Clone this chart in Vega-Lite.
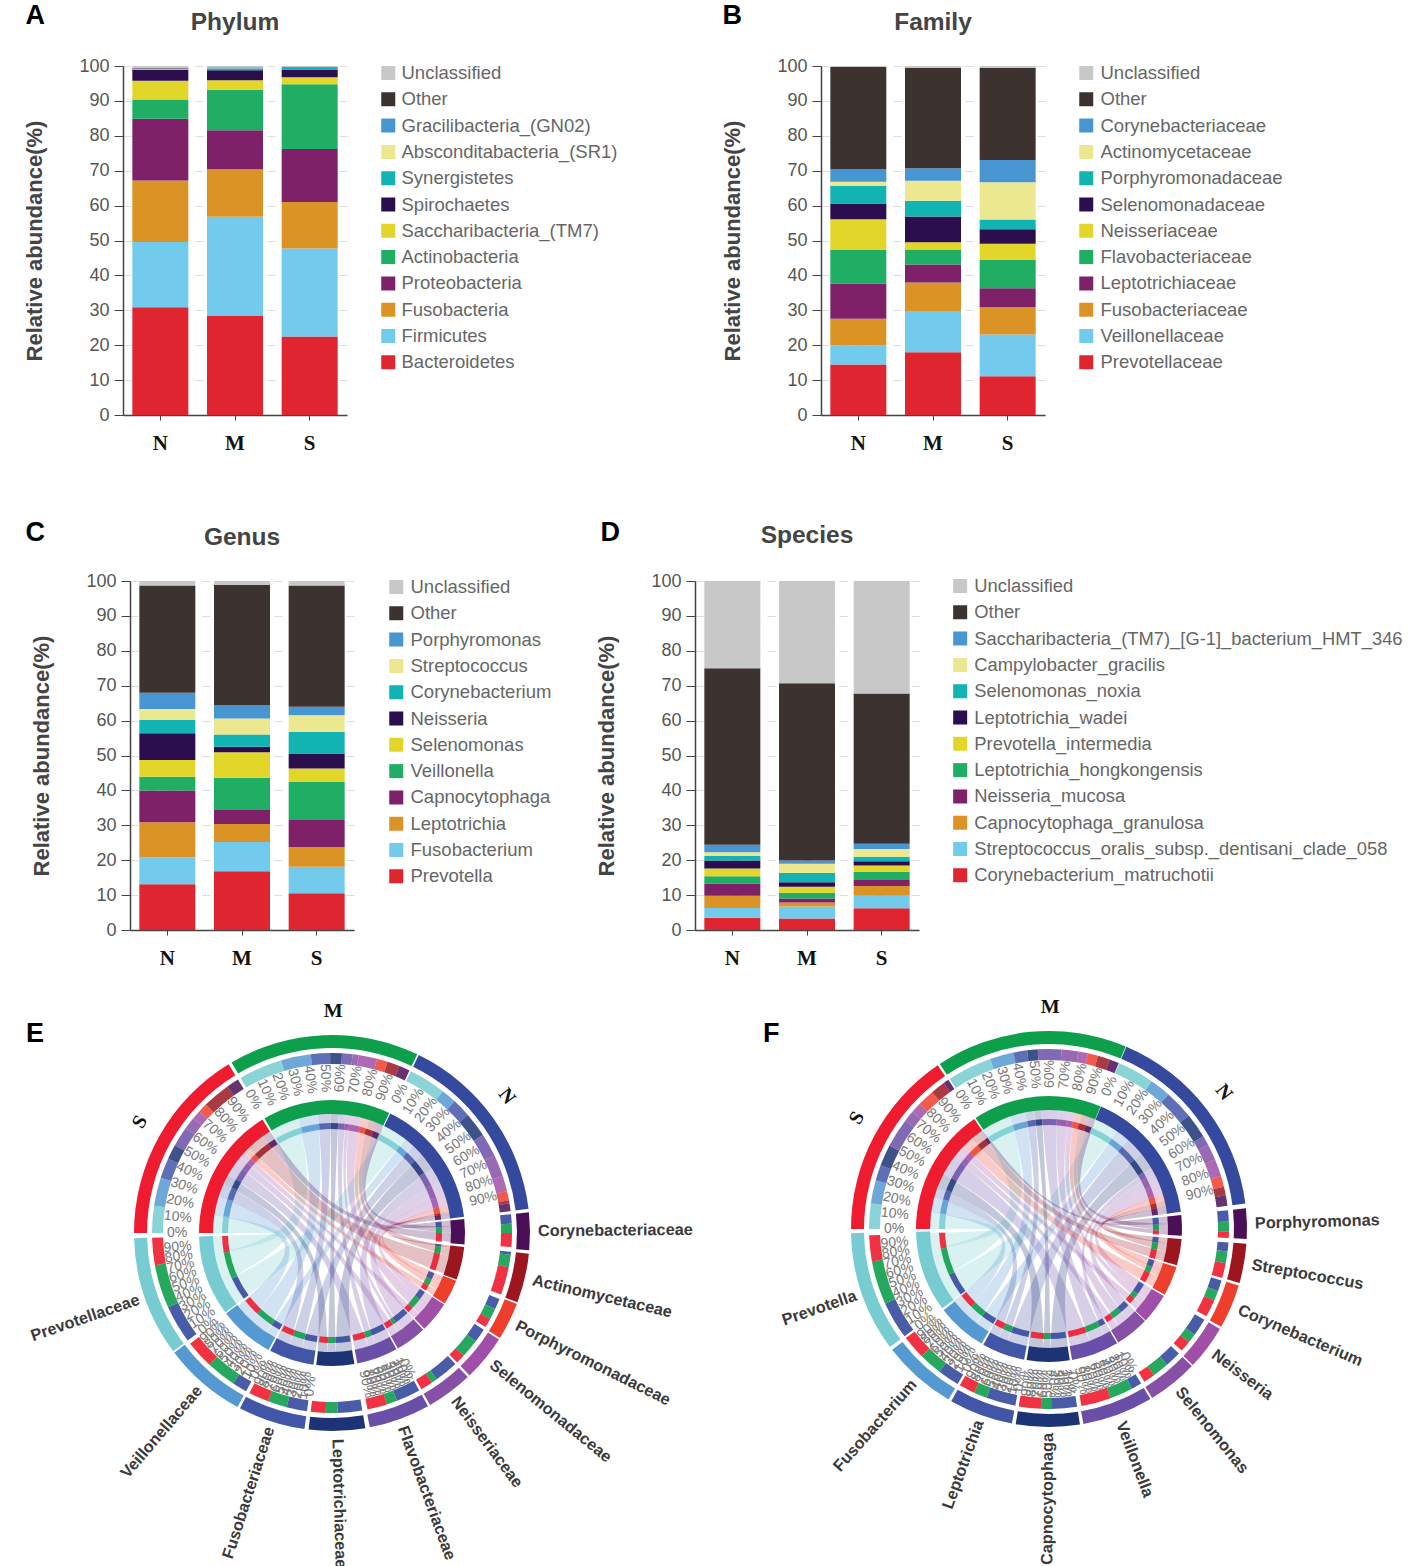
{"$schema":"https://vega.github.io/schema/vega-lite/v6.json","padding":{"top":1,"left":0,"right":0,"bottom":0},"background":"white","config":{"view":{"stroke":null},"font":"Liberation Sans"},
"datasets":{
"A":[{"g":"N","t":"Bacteroidetes","k":1,"v":30.9},{"g":"N","t":"Firmicutes","k":2,"v":18.7},{"g":"N","t":"Fusobacteria","k":3,"v":17.6},{"g":"N","t":"Proteobacteria","k":4,"v":17.7},{"g":"N","t":"Actinobacteria","k":5,"v":5.5},{"g":"N","t":"Saccharibacteria_(TM7)","k":6,"v":5.4},{"g":"N","t":"Spirochaetes","k":7,"v":3.1},{"g":"N","t":"Synergistetes","k":8,"v":0.2},{"g":"N","t":"Absconditabacteria_(SR1)","k":9,"v":0.1},{"g":"N","t":"Gracilibacteria_(GN02)","k":10,"v":0.1},{"g":"N","t":"Other","k":11,"v":0.2},{"g":"N","t":"Unclassified","k":12,"v":0.5},
{"g":"M","t":"Bacteroidetes","k":1,"v":28.5},{"g":"M","t":"Firmicutes","k":2,"v":28.3},{"g":"M","t":"Fusobacteria","k":3,"v":13.6},{"g":"M","t":"Proteobacteria","k":4,"v":11.2},{"g":"M","t":"Actinobacteria","k":5,"v":11.6},{"g":"M","t":"Saccharibacteria_(TM7)","k":6,"v":2.7},{"g":"M","t":"Spirochaetes","k":7,"v":2.9},{"g":"M","t":"Synergistetes","k":8,"v":0.4},{"g":"M","t":"Absconditabacteria_(SR1)","k":9,"v":0.1},{"g":"M","t":"Gracilibacteria_(GN02)","k":10,"v":0.1},{"g":"M","t":"Other","k":11,"v":0.2},{"g":"M","t":"Unclassified","k":12,"v":0.4},
{"g":"S","t":"Bacteroidetes","k":1,"v":22.5},{"g":"S","t":"Firmicutes","k":2,"v":25.2},{"g":"S","t":"Fusobacteria","k":3,"v":13.3},{"g":"S","t":"Proteobacteria","k":4,"v":15.2},{"g":"S","t":"Actinobacteria","k":5,"v":18.6},{"g":"S","t":"Saccharibacteria_(TM7)","k":6,"v":2},{"g":"S","t":"Spirochaetes","k":7,"v":2.2},{"g":"S","t":"Synergistetes","k":8,"v":0.4},{"g":"S","t":"Absconditabacteria_(SR1)","k":9,"v":0.1},{"g":"S","t":"Gracilibacteria_(GN02)","k":10,"v":0.1},{"g":"S","t":"Other","k":11,"v":0.1},{"g":"S","t":"Unclassified","k":12,"v":0.3}],
"B":[{"g":"N","t":"Prevotellaceae","k":1,"v":14.5},{"g":"N","t":"Veillonellaceae","k":2,"v":5.5},{"g":"N","t":"Fusobacteriaceae","k":3,"v":7.6},{"g":"N","t":"Leptotrichiaceae","k":4,"v":10.1},{"g":"N","t":"Flavobacteriaceae","k":5,"v":9.6},{"g":"N","t":"Neisseriaceae","k":6,"v":8.8},{"g":"N","t":"Selenomonadaceae","k":7,"v":4.5},{"g":"N","t":"Porphyromonadaceae","k":8,"v":5.1},{"g":"N","t":"Actinomycetaceae","k":9,"v":1.1},{"g":"N","t":"Corynebacteriaceae","k":10,"v":3.7},{"g":"N","t":"Other","k":11,"v":29.2},{"g":"N","t":"Unclassified","k":12,"v":0.3},
{"g":"M","t":"Prevotellaceae","k":1,"v":18},{"g":"M","t":"Veillonellaceae","k":2,"v":11.8},{"g":"M","t":"Fusobacteriaceae","k":3,"v":8.2},{"g":"M","t":"Leptotrichiaceae","k":4,"v":5.1},{"g":"M","t":"Flavobacteriaceae","k":5,"v":4.3},{"g":"M","t":"Neisseriaceae","k":6,"v":2.1},{"g":"M","t":"Selenomonadaceae","k":7,"v":7.4},{"g":"M","t":"Porphyromonadaceae","k":8,"v":4.5},{"g":"M","t":"Actinomycetaceae","k":9,"v":5.7},{"g":"M","t":"Corynebacteriaceae","k":10,"v":3.6},{"g":"M","t":"Other","k":11,"v":28.7},{"g":"M","t":"Unclassified","k":12,"v":0.6},
{"g":"S","t":"Prevotellaceae","k":1,"v":11.1},{"g":"S","t":"Veillonellaceae","k":2,"v":12},{"g":"S","t":"Fusobacteriaceae","k":3,"v":7.8},{"g":"S","t":"Leptotrichiaceae","k":4,"v":5.4},{"g":"S","t":"Flavobacteriaceae","k":5,"v":8.1},{"g":"S","t":"Neisseriaceae","k":6,"v":4.7},{"g":"S","t":"Selenomonadaceae","k":7,"v":4.1},{"g":"S","t":"Porphyromonadaceae","k":8,"v":2.8},{"g":"S","t":"Actinomycetaceae","k":9,"v":10.7},{"g":"S","t":"Corynebacteriaceae","k":10,"v":6.4},{"g":"S","t":"Other","k":11,"v":26.3},{"g":"S","t":"Unclassified","k":12,"v":0.6}],
"C":[{"g":"N","t":"Prevotella","k":1,"v":13.1},{"g":"N","t":"Fusobacterium","k":2,"v":7.7},{"g":"N","t":"Leptotrichia","k":3,"v":10.1},{"g":"N","t":"Capnocytophaga","k":4,"v":9.1},{"g":"N","t":"Veillonella","k":5,"v":3.9},{"g":"N","t":"Selenomonas","k":6,"v":4.8},{"g":"N","t":"Neisseria","k":7,"v":7.7},{"g":"N","t":"Corynebacterium","k":8,"v":3.8},{"g":"N","t":"Streptococcus","k":9,"v":3.1},{"g":"N","t":"Porphyromonas","k":10,"v":4.7},{"g":"N","t":"Other","k":11,"v":30.7},{"g":"N","t":"Unclassified","k":12,"v":1.3},
{"g":"M","t":"Prevotella","k":1,"v":16.8},{"g":"M","t":"Fusobacterium","k":2,"v":8.4},{"g":"M","t":"Leptotrichia","k":3,"v":5.2},{"g":"M","t":"Capnocytophaga","k":4,"v":4},{"g":"M","t":"Veillonella","k":5,"v":9.2},{"g":"M","t":"Selenomonas","k":6,"v":7.3},{"g":"M","t":"Neisseria","k":7,"v":1.6},{"g":"M","t":"Corynebacterium","k":8,"v":3.5},{"g":"M","t":"Streptococcus","k":9,"v":4.6},{"g":"M","t":"Porphyromonas","k":10,"v":3.9},{"g":"M","t":"Other","k":11,"v":34.4},{"g":"M","t":"Unclassified","k":12,"v":1.1},
{"g":"S","t":"Prevotella","k":1,"v":10.5},{"g":"S","t":"Fusobacterium","k":2,"v":7.6},{"g":"S","t":"Leptotrichia","k":3,"v":5.7},{"g":"S","t":"Capnocytophaga","k":4,"v":7.7},{"g":"S","t":"Veillonella","k":5,"v":10.9},{"g":"S","t":"Selenomonas","k":6,"v":3.9},{"g":"S","t":"Neisseria","k":7,"v":4.3},{"g":"S","t":"Corynebacterium","k":8,"v":6.2},{"g":"S","t":"Streptococcus","k":9,"v":4.7},{"g":"S","t":"Porphyromonas","k":10,"v":2.5},{"g":"S","t":"Other","k":11,"v":34.7},{"g":"S","t":"Unclassified","k":12,"v":1.3}],
"D":[{"g":"N","t":"Corynebacterium_matruchotii","k":1,"v":3.5},{"g":"N","t":"Streptococcus_oralis_subsp._dentisani_clade_058","k":2,"v":2.8},{"g":"N","t":"Capnocytophaga_granulosa","k":3,"v":3.5},{"g":"N","t":"Neisseria_mucosa","k":4,"v":3.5},{"g":"N","t":"Leptotrichia_hongkongensis","k":5,"v":2.1},{"g":"N","t":"Prevotella_intermedia","k":6,"v":2.2},{"g":"N","t":"Leptotrichia_wadei","k":7,"v":2.3},{"g":"N","t":"Selenomonas_noxia","k":8,"v":1.3},{"g":"N","t":"Campylobacter_gracilis","k":9,"v":1.1},{"g":"N","t":"Saccharibacteria_(TM7)_[G-1]_bacterium_HMT_346","k":10,"v":2.1},{"g":"N","t":"Other","k":11,"v":50.6},{"g":"N","t":"Unclassified","k":12,"v":25},
{"g":"M","t":"Corynebacterium_matruchotii","k":1,"v":3.3},{"g":"M","t":"Streptococcus_oralis_subsp._dentisani_clade_058","k":2,"v":3.4},{"g":"M","t":"Capnocytophaga_granulosa","k":3,"v":1.2},{"g":"M","t":"Neisseria_mucosa","k":4,"v":1.1},{"g":"M","t":"Leptotrichia_hongkongensis","k":5,"v":1.7},{"g":"M","t":"Prevotella_intermedia","k":6,"v":1.7},{"g":"M","t":"Leptotrichia_wadei","k":7,"v":1.3},{"g":"M","t":"Selenomonas_noxia","k":8,"v":2.6},{"g":"M","t":"Campylobacter_gracilis","k":9,"v":2.7},{"g":"M","t":"Saccharibacteria_(TM7)_[G-1]_bacterium_HMT_346","k":10,"v":0.9},{"g":"M","t":"Other","k":11,"v":50.8},{"g":"M","t":"Unclassified","k":12,"v":29.3},
{"g":"S","t":"Corynebacterium_matruchotii","k":1,"v":6.2},{"g":"S","t":"Streptococcus_oralis_subsp._dentisani_clade_058","k":2,"v":3.6},{"g":"S","t":"Capnocytophaga_granulosa","k":3,"v":2.8},{"g":"S","t":"Neisseria_mucosa","k":4,"v":1.7},{"g":"S","t":"Leptotrichia_hongkongensis","k":5,"v":2.4},{"g":"S","t":"Prevotella_intermedia","k":6,"v":1.8},{"g":"S","t":"Leptotrichia_wadei","k":7,"v":1.2},{"g":"S","t":"Selenomonas_noxia","k":8,"v":1.3},{"g":"S","t":"Campylobacter_gracilis","k":9,"v":2.2},{"g":"S","t":"Saccharibacteria_(TM7)_[G-1]_bacterium_HMT_346","k":10,"v":1.5},{"g":"S","t":"Other","k":11,"v":43.1},{"g":"S","t":"Unclassified","k":12,"v":32.2}],
"chordE":[
{"src":"N","tgt":"Prevotellaceae","a0":26,"a1":38,"b0":233.3,"b1":245.6},{"src":"N","tgt":"Veillonellaceae","a0":38,"a1":43,"b0":208.5,"b1":213.3},{"src":"N","tgt":"Fusobacteriaceae","a0":43,"a1":49,"b0":188,"b1":194.6},{"src":"N","tgt":"Leptotrichiaceae","a0":49,"a1":57,"b0":170.3,"b1":178.2},{"src":"N","tgt":"Flavobacteriaceae","a0":57,"a1":64.5,"b0":151,"b1":158.8},{"src":"N","tgt":"Neisseriaceae","a0":64.5,"a1":71.5,"b0":136.7,"b1":144.4},{"src":"N","tgt":"Selenomonadaceae","a0":71.5,"a1":76.5,"b0":122.5,"b1":127},{"src":"N","tgt":"Porphyromonadaceae","a0":76.5,"a1":79.5,"b0":111.5,"b1":115},{"src":"N","tgt":"Actinomycetaceae","a0":79.5,"a1":80.5,"b0":96,"b1":97},{"src":"N","tgt":"Corynebacteriaceae","a0":80.5,"a1":83,"b0":84,"b1":87},
{"src":"M","tgt":"Prevotellaceae","a0":329.5,"a1":343.6,"b0":245.6,"b1":259.7},{"src":"M","tgt":"Veillonellaceae","a0":343.6,"a1":353.2,"b0":213.3,"b1":222.9},{"src":"M","tgt":"Fusobacteriaceae","a0":353.2,"a1":359.4,"b0":194.6,"b1":200.8},{"src":"M","tgt":"Leptotrichiaceae","a0":359.4,"a1":363.2,"b0":178.2,"b1":182},{"src":"M","tgt":"Flavobacteriaceae","a0":363.2,"a1":366.6,"b0":158.8,"b1":162.2},{"src":"M","tgt":"Neisseriaceae","a0":366.6,"a1":368.5,"b0":144.4,"b1":146.3},{"src":"M","tgt":"Selenomonadaceae","a0":368.5,"a1":374.5,"b0":127,"b1":133},{"src":"M","tgt":"Porphyromonadaceae","a0":374.5,"a1":378,"b0":115,"b1":118.5},{"src":"M","tgt":"Actinomycetaceae","a0":378,"a1":382,"b0":97,"b1":101},{"src":"M","tgt":"Corynebacteriaceae","a0":382,"a1":385.5,"b0":87,"b1":90},
{"src":"S","tgt":"Prevotellaceae","a0":270,"a1":278.8,"b0":259.7,"b1":268.5},{"src":"S","tgt":"Veillonellaceae","a0":278.8,"a1":287.9,"b0":222.9,"b1":232},{"src":"S","tgt":"Fusobacteriaceae","a0":287.9,"a1":294.4,"b0":200.8,"b1":207.3},{"src":"S","tgt":"Leptotrichiaceae","a0":294.4,"a1":299.2,"b0":182,"b1":186.8},{"src":"S","tgt":"Flavobacteriaceae","a0":299.2,"a1":305.6,"b0":162.2,"b1":168.6},{"src":"S","tgt":"Neisseriaceae","a0":305.6,"a1":309.5,"b0":146.3,"b1":150.2},{"src":"S","tgt":"Selenomonadaceae","a0":309.5,"a1":312.5,"b0":133,"b1":136},{"src":"S","tgt":"Porphyromonadaceae","a0":312.5,"a1":315.5,"b0":118.5,"b1":121.5},{"src":"S","tgt":"Actinomycetaceae","a0":315.5,"a1":324.5,"b0":101,"b1":110},{"src":"S","tgt":"Corynebacteriaceae","a0":324.5,"a1":328.5,"b0":90,"b1":94.5}],
"chordF":[
{"src":"N","tgt":"Prevotella","a0":23,"a1":34.8,"b0":233.4,"b1":245.5},{"src":"N","tgt":"Fusobacterium","a0":34.8,"a1":41.6,"b0":210.5,"b1":217.5},{"src":"N","tgt":"Leptotrichia","a0":41.6,"a1":50.9,"b0":190.8,"b1":200.3},{"src":"N","tgt":"Capnocytophaga","a0":50.9,"a1":59,"b0":171,"b1":179.3},{"src":"N","tgt":"Veillonella","a0":59,"a1":62.2,"b0":149.2,"b1":152.5},{"src":"N","tgt":"Selenomonas","a0":62.2,"a1":67.3,"b0":133.8,"b1":139},{"src":"N","tgt":"Neisseria","a0":67.3,"a1":72.9,"b0":120.3,"b1":126},{"src":"N","tgt":"Corynebacterium","a0":72.9,"a1":76.4,"b0":106.6,"b1":110.2},{"src":"N","tgt":"Streptococcus","a0":76.4,"a1":79.2,"b0":94.3,"b1":97.2},{"src":"N","tgt":"Porphyromonas","a0":79.2,"a1":82.6,"b0":84,"b1":87.6},
{"src":"M","tgt":"Prevotella","a0":326.5,"a1":340.9,"b0":245.5,"b1":259.6},{"src":"M","tgt":"Fusobacterium","a0":340.9,"a1":348.6,"b0":217.5,"b1":225},{"src":"M","tgt":"Leptotrichia","a0":348.6,"a1":353,"b0":200.3,"b1":204.6},{"src":"M","tgt":"Capnocytophaga","a0":353,"a1":356.4,"b0":179.3,"b1":182.6},{"src":"M","tgt":"Veillonella","a0":356.4,"a1":364,"b0":152.5,"b1":160},{"src":"M","tgt":"Selenomonas","a0":364,"a1":369.4,"b0":139,"b1":144.3},{"src":"M","tgt":"Neisseria","a0":369.4,"a1":372.5,"b0":126,"b1":129},{"src":"M","tgt":"Corynebacterium","a0":372.5,"a1":375.8,"b0":110.2,"b1":113.4},{"src":"M","tgt":"Streptococcus","a0":375.8,"a1":379.7,"b0":97.2,"b1":101},{"src":"M","tgt":"Porphyromonas","a0":379.7,"a1":382.8,"b0":87.6,"b1":90.8},
{"src":"S","tgt":"Prevotella","a0":270,"a1":278.2,"b0":259.6,"b1":268},{"src":"S","tgt":"Fusobacterium","a0":278.2,"a1":285.7,"b0":225,"b1":232.7},{"src":"S","tgt":"Leptotrichia","a0":285.7,"a1":290.7,"b0":204.6,"b1":209.7},{"src":"S","tgt":"Capnocytophaga","a0":290.7,"a1":297.6,"b0":182.6,"b1":189.7},{"src":"S","tgt":"Veillonella","a0":297.6,"a1":307,"b0":160,"b1":169.6},{"src":"S","tgt":"Selenomonas","a0":307,"a1":310.6,"b0":144.3,"b1":148},{"src":"S","tgt":"Neisseria","a0":310.6,"a1":314,"b0":129,"b1":132.5},{"src":"S","tgt":"Corynebacterium","a0":314,"a1":319.5,"b0":113.4,"b1":119},{"src":"S","tgt":"Streptococcus","a0":319.5,"a1":324.2,"b0":101,"b1":105.8},{"src":"S","tgt":"Porphyromonas","a0":324.2,"a1":326,"b0":90.8,"b1":92.9}],
"secE":[{"name":"N","s":26,"e":83},{"name":"M","s":329.5,"e":385.5},{"name":"S","s":270,"e":328.5},{"name":"Corynebacteriaceae","s":84,"e":95},{"name":"Actinomycetaceae","s":96,"e":110.5},{"name":"Porphyromonadaceae","s":111,"e":122},{"name":"Selenomonadaceae","s":122.5,"e":136},{"name":"Neisseriaceae","s":136.7,"e":150.3},{"name":"Flavobacteriaceae","s":151,"e":169},{"name":"Leptotrichiaceae","s":170.3,"e":186.8},{"name":"Fusobacteriaceae","s":188,"e":207.7},{"name":"Veillonellaceae","s":208.5,"e":232.8},{"name":"Prevotellaceae","s":233.3,"e":268.5}],
"secF":[{"name":"N","s":23,"e":82.6},{"name":"M","s":326.5,"e":382.8},{"name":"S","s":270,"e":325.8},{"name":"Porphyromonas","s":84,"e":92.9},{"name":"Streptococcus","s":94.3,"e":105.8},{"name":"Corynebacterium","s":106.6,"e":119.6},{"name":"Neisseria","s":120.3,"e":133.4},{"name":"Selenomonas","s":133.8,"e":148.6},{"name":"Veillonella","s":149.2,"e":170},{"name":"Capnocytophaga","s":171,"e":189.7},{"name":"Leptotrichia","s":190.8,"e":209.6},{"name":"Fusobacterium","s":210.5,"e":232.4},{"name":"Prevotella","s":233.4,"e":268.8}],
"nameRE":[{"name":"Corynebacteriaceae","t":89.5},{"name":"Actinomycetaceae","t":103.2},{"name":"Porphyromonadaceae","t":116.5},{"name":"Selenomonadaceae","t":129.2},{"name":"Neisseriaceae","t":143.5},{"name":"Flavobacteriaceae","t":160},{"name":"Leptotrichiaceae","t":178.5}],
"nameLE":[{"name":"Fusobacteriaceae","t":197.8},{"name":"Veillonellaceae","t":220.6},{"name":"Prevotellaceae","t":251}],
"nameRF":[{"name":"Porphyromonas","t":88.5},{"name":"Streptococcus","t":100},{"name":"Corynebacterium","t":113},{"name":"Neisseria","t":127},{"name":"Selenomonas","t":141},{"name":"Veillonella","t":159.6}],
"nameLF":[{"name":"Capnocytophaga","t":180.3},{"name":"Leptotrichia","t":200},{"name":"Fusobacterium","t":221.5},{"name":"Prevotella","t":251}],
"grp":[{"name":"M","t":0.3},{"name":"N","t":52},{"name":"S","t":300}],
"tickE":[{"t":26,"p":"0%"},{"t":31.7,"p":"10%"},{"t":37.4,"p":"20%"},{"t":43.1,"p":"30%"},{"t":48.8,"p":"40%"},{"t":54.5,"p":"50%"},{"t":60.2,"p":"60%"},{"t":65.9,"p":"70%"},{"t":71.6,"p":"80%"},{"t":77.3,"p":"90%"},
{"t":329.5,"p":"0%"},{"t":335.1,"p":"10%"},{"t":340.7,"p":"20%"},{"t":346.3,"p":"30%"},{"t":351.9,"p":"40%"},{"t":357.5,"p":"50%"},{"t":3.1,"p":"60%"},{"t":8.7,"p":"70%"},{"t":14.3,"p":"80%"},{"t":19.9,"p":"90%"},
{"t":270,"p":"0%"},{"t":275.9,"p":"10%"},{"t":281.7,"p":"20%"},{"t":287.6,"p":"30%"},{"t":293.4,"p":"40%"},{"t":299.3,"p":"50%"},{"t":305.1,"p":"60%"},{"t":311,"p":"70%"},{"t":316.8,"p":"80%"},{"t":322.7,"p":"90%"},
{"t":233.3,"p":"0%"},{"t":236.8,"p":"10%"},{"t":240.3,"p":"20%"},{"t":243.8,"p":"30%"},{"t":247.3,"p":"40%"},{"t":250.8,"p":"50%"},{"t":254.3,"p":"60%"},{"t":257.8,"p":"70%"},{"t":261.3,"p":"80%"},{"t":264.8,"p":"90%"},
{"t":208.5,"p":"0%"},{"t":210.9,"p":"10%"},{"t":213.4,"p":"20%"},{"t":215.8,"p":"30%"},{"t":218.2,"p":"40%"},{"t":220.7,"p":"50%"},{"t":223.1,"p":"60%"},{"t":225.5,"p":"70%"},{"t":227.9,"p":"80%"},{"t":230.4,"p":"90%"},
{"t":188,"p":"0%"},{"t":190,"p":"10%"},{"t":192,"p":"20%"},{"t":194,"p":"30%"},{"t":196,"p":"40%"},{"t":198,"p":"50%"},{"t":200,"p":"60%"},{"t":202,"p":"70%"},{"t":204,"p":"80%"},{"t":206,"p":"90%"},
{"t":151,"p":"0%"},{"t":152.8,"p":"10%"},{"t":154.6,"p":"20%"},{"t":156.4,"p":"30%"},{"t":158.2,"p":"40%"},{"t":160,"p":"50%"},{"t":161.8,"p":"60%"},{"t":163.6,"p":"70%"},{"t":165.4,"p":"80%"},{"t":167.2,"p":"90%"}],
"tickF":[{"t":23,"p":"0%"},{"t":29,"p":"10%"},{"t":34.9,"p":"20%"},{"t":40.9,"p":"30%"},{"t":46.8,"p":"40%"},{"t":52.8,"p":"50%"},{"t":58.8,"p":"60%"},{"t":64.7,"p":"70%"},{"t":70.7,"p":"80%"},{"t":76.6,"p":"90%"},
{"t":326.5,"p":"0%"},{"t":332.1,"p":"10%"},{"t":337.8,"p":"20%"},{"t":343.4,"p":"30%"},{"t":349,"p":"40%"},{"t":354.7,"p":"50%"},{"t":0.3,"p":"60%"},{"t":5.9,"p":"70%"},{"t":11.5,"p":"80%"},{"t":17.2,"p":"90%"},
{"t":270,"p":"0%"},{"t":275.6,"p":"10%"},{"t":281.1,"p":"20%"},{"t":286.7,"p":"30%"},{"t":292.2,"p":"40%"},{"t":297.8,"p":"50%"},{"t":303.3,"p":"60%"},{"t":308.9,"p":"70%"},{"t":314.4,"p":"80%"},{"t":320,"p":"90%"},
{"t":233.4,"p":"0%"},{"t":236.9,"p":"10%"},{"t":240.4,"p":"20%"},{"t":243.9,"p":"30%"},{"t":247.4,"p":"40%"},{"t":250.9,"p":"50%"},{"t":254.4,"p":"60%"},{"t":257.9,"p":"70%"},{"t":261.4,"p":"80%"},{"t":264.9,"p":"90%"},
{"t":210.5,"p":"0%"},{"t":212.7,"p":"10%"},{"t":214.9,"p":"20%"},{"t":217.1,"p":"30%"},{"t":219.3,"p":"40%"},{"t":221.5,"p":"50%"},{"t":223.7,"p":"60%"},{"t":225.9,"p":"70%"},{"t":228.1,"p":"80%"},{"t":230.3,"p":"90%"},
{"t":190.8,"p":"0%"},{"t":192.7,"p":"10%"},{"t":194.6,"p":"20%"},{"t":196.5,"p":"30%"},{"t":198.4,"p":"40%"},{"t":200.3,"p":"50%"},{"t":202.2,"p":"60%"},{"t":204.1,"p":"70%"},{"t":206,"p":"80%"},{"t":207.9,"p":"90%"},
{"t":171,"p":"0%"},{"t":172.9,"p":"10%"},{"t":174.7,"p":"20%"},{"t":176.6,"p":"30%"},{"t":178.5,"p":"40%"},{"t":180.4,"p":"50%"},{"t":182.2,"p":"60%"},{"t":184.1,"p":"70%"},{"t":186,"p":"80%"},{"t":187.8,"p":"90%"},
{"t":149.2,"p":"0%"},{"t":151.3,"p":"10%"},{"t":153.4,"p":"20%"},{"t":155.4,"p":"30%"},{"t":157.5,"p":"40%"},{"t":159.6,"p":"50%"},{"t":161.7,"p":"60%"},{"t":163.8,"p":"70%"},{"t":165.8,"p":"80%"},{"t":167.9,"p":"90%"}]
},
"spacing":0,
"resolve":{"scale":{"color":"independent","fill":"independent","theta":"independent"}},
"vconcat":[
{"hconcat":[
{"width":122,"height":349,"title":{"text":"A","anchor":"start","dx":25,"dy":-15,"offset":0,"baseline":"alphabetic","fontSize":27,"fontWeight":"bold","color":"#000"},"data":{"values":[{"a":1}]},"mark":{"type":"rule","opacity":0},"encoding":{}},
{"width":224,"height":349,"title":{"text":"Phylum","anchor":"middle","offset":22,"fontSize":24.5,"fontWeight":"bold","color":"#444"},"data":{"name":"A"},"mark":{"type":"bar"},
 "encoding":{"x":{"field":"g","type":"nominal","sort":["N","M","S"],"scale":{"paddingInner":0.25,"paddingOuter":0.125},"axis":{"title":null,"labelAngle":0,"labelFont":"Liberation Serif","labelFontWeight":"bold","labelFontSize":21,"labelColor":"#111","labelPadding":12,"tickSize":5,"tickColor":"#444","domainColor":"#444","domainWidth":1.5,"grid":false}},
 "y":{"field":"v","type":"quantitative","stack":"zero","scale":{"domain":[0,100],"nice":false},"axis":{"title":"Relative abundance(%)","titleFontSize":22,"titleFontWeight":"bold","titleColor":"#444","titlePadding":32,"labelFontSize":18,"labelColor":"#555","labelPadding":5,"tickSize":9,"tickCount":10,"tickColor":"#444","domainColor":"#444","domainWidth":1.5,"grid":true,"gridColor":"#ddd","gridDash":[8,10]}},
 "order":{"field":"k","type":"quantitative"},
 "color":{"field":"t","type":"nominal","scale":{"domain":["Unclassified","Other","Gracilibacteria_(GN02)","Absconditabacteria_(SR1)","Synergistetes","Spirochaetes","Saccharibacteria_(TM7)","Actinobacteria","Proteobacteria","Fusobacteria","Firmicutes","Bacteroidetes"],"range":["#C8C8C8","#3C3230","#4796D2","#EBE88F","#12B3B3","#2A0E4E","#E3D62A","#1FAE63","#7E2168","#DC9326","#72CBEC","#DE2530"]},
 "legend":{"title":null,"orient":"none","legendX":256,"legendY":-6,"symbolType":"square","symbolSize":196,"symbolStrokeWidth":0,"labelFontSize":18.5,"labelColor":"#666","labelLimit":500,"clipHeight":26,"rowPadding":0.3,"labelOffset":4}}}},
{"width":474,"height":349,"title":{"text":"B","anchor":"start","dx":376,"dy":-15,"offset":0,"baseline":"alphabetic","fontSize":27,"fontWeight":"bold","color":"#000"},"data":{"values":[{"a":1}]},"mark":{"type":"rule","opacity":0},"encoding":{}},
{"width":224,"height":349,"title":{"text":"Family","anchor":"middle","offset":22,"fontSize":24.5,"fontWeight":"bold","color":"#444"},"data":{"name":"B"},"mark":{"type":"bar"},
 "encoding":{"x":{"field":"g","type":"nominal","sort":["N","M","S"],"scale":{"paddingInner":0.25,"paddingOuter":0.125},"axis":{"title":null,"labelAngle":0,"labelFont":"Liberation Serif","labelFontWeight":"bold","labelFontSize":21,"labelColor":"#111","labelPadding":12,"tickSize":5,"tickColor":"#444","domainColor":"#444","domainWidth":1.5,"grid":false}},
 "y":{"field":"v","type":"quantitative","stack":"zero","scale":{"domain":[0,100],"nice":false},"axis":{"title":"Relative abundance(%)","titleFontSize":22,"titleFontWeight":"bold","titleColor":"#444","titlePadding":32,"labelFontSize":18,"labelColor":"#555","labelPadding":5,"tickSize":9,"tickCount":10,"tickColor":"#444","domainColor":"#444","domainWidth":1.5,"grid":true,"gridColor":"#ddd","gridDash":[8,10]}},
 "order":{"field":"k","type":"quantitative"},
 "color":{"field":"t","type":"nominal","scale":{"domain":["Unclassified","Other","Corynebacteriaceae","Actinomycetaceae","Porphyromonadaceae","Selenomonadaceae","Neisseriaceae","Flavobacteriaceae","Leptotrichiaceae","Fusobacteriaceae","Veillonellaceae","Prevotellaceae"],"range":["#C8C8C8","#3C3230","#4796D2","#EBE88F","#12B3B3","#2A0E4E","#E3D62A","#1FAE63","#7E2168","#DC9326","#72CBEC","#DE2530"]},
 "legend":{"title":null,"orient":"none","legendX":256,"legendY":-6,"symbolType":"square","symbolSize":196,"symbolStrokeWidth":0,"labelFontSize":18.5,"labelColor":"#666","labelLimit":500,"clipHeight":26,"rowPadding":0.3,"labelOffset":5}}}}
],"spacing":0,"bounds":"flush","resolve":{"scale":{"color":"independent"}}},
{"width":1,"height":64,"data":{"values":[{"a":1}]},"mark":{"type":"rule","opacity":0},"encoding":{}},
{"hconcat":[
{"width":129,"height":349,"title":{"text":"C","anchor":"start","dx":25,"dy":-13,"offset":0,"baseline":"alphabetic","fontSize":27,"fontWeight":"bold","color":"#000"},"data":{"values":[{"a":1}]},"mark":{"type":"rule","opacity":0},"encoding":{}},
{"width":224,"height":349,"title":{"text":"Genus","anchor":"middle","offset":22,"fontSize":24.5,"fontWeight":"bold","color":"#444"},"data":{"name":"C"},"mark":{"type":"bar"},
 "encoding":{"x":{"field":"g","type":"nominal","sort":["N","M","S"],"scale":{"paddingInner":0.25,"paddingOuter":0.125},"axis":{"title":null,"labelAngle":0,"labelFont":"Liberation Serif","labelFontWeight":"bold","labelFontSize":21,"labelColor":"#111","labelPadding":12,"tickSize":5,"tickColor":"#444","domainColor":"#444","domainWidth":1.5,"grid":false}},
 "y":{"field":"v","type":"quantitative","stack":"zero","scale":{"domain":[0,100],"nice":false},"axis":{"title":"Relative abundance(%)","titleFontSize":22,"titleFontWeight":"bold","titleColor":"#444","titlePadding":32,"labelFontSize":18,"labelColor":"#555","labelPadding":5,"tickSize":9,"tickCount":10,"tickColor":"#444","domainColor":"#444","domainWidth":1.5,"grid":true,"gridColor":"#ddd","gridDash":[8,10]}},
 "order":{"field":"k","type":"quantitative"},
 "color":{"field":"t","type":"nominal","scale":{"domain":["Unclassified","Other","Porphyromonas","Streptococcus","Corynebacterium","Neisseria","Selenomonas","Veillonella","Capnocytophaga","Leptotrichia","Fusobacterium","Prevotella"],"range":["#C8C8C8","#3C3230","#4796D2","#EBE88F","#12B3B3","#2A0E4E","#E3D62A","#1FAE63","#7E2168","#DC9326","#72CBEC","#DE2530"]},
 "legend":{"title":null,"orient":"none","legendX":257,"legendY":-7,"symbolType":"square","symbolSize":196,"symbolStrokeWidth":0,"labelFontSize":18.5,"labelColor":"#666","labelLimit":500,"clipHeight":26,"rowPadding":0.3,"labelOffset":5}}}},
{"width":341,"height":349,"title":{"text":"D","anchor":"start","dx":247,"dy":-13,"offset":0,"baseline":"alphabetic","fontSize":27,"fontWeight":"bold","color":"#000"},"data":{"values":[{"a":1}]},"mark":{"type":"rule","opacity":0},"encoding":{}},
{"width":224,"height":349,"title":{"text":"Species","anchor":"middle","offset":24,"fontSize":24.5,"fontWeight":"bold","color":"#444"},"data":{"name":"D"},"mark":{"type":"bar"},
 "encoding":{"x":{"field":"g","type":"nominal","sort":["N","M","S"],"scale":{"paddingInner":0.25,"paddingOuter":0.125},"axis":{"title":null,"labelAngle":0,"labelFont":"Liberation Serif","labelFontWeight":"bold","labelFontSize":21,"labelColor":"#111","labelPadding":12,"tickSize":5,"tickColor":"#444","domainColor":"#444","domainWidth":1.5,"grid":false}},
 "y":{"field":"v","type":"quantitative","stack":"zero","scale":{"domain":[0,100],"nice":false},"axis":{"title":"Relative abundance(%)","titleFontSize":22,"titleFontWeight":"bold","titleColor":"#444","titlePadding":32,"labelFontSize":18,"labelColor":"#555","labelPadding":5,"tickSize":9,"tickCount":10,"tickColor":"#444","domainColor":"#444","domainWidth":1.5,"grid":true,"gridColor":"#ddd","gridDash":[8,10]}},
 "order":{"field":"k","type":"quantitative"},
 "color":{"field":"t","type":"nominal","scale":{"domain":["Unclassified","Other","Saccharibacteria_(TM7)_[G-1]_bacterium_HMT_346","Campylobacter_gracilis","Selenomonas_noxia","Leptotrichia_wadei","Prevotella_intermedia","Leptotrichia_hongkongensis","Neisseria_mucosa","Capnocytophaga_granulosa","Streptococcus_oralis_subsp._dentisani_clade_058","Corynebacterium_matruchotii"],"range":["#C8C8C8","#3C3230","#4796D2","#EBE88F","#12B3B3","#2A0E4E","#E3D62A","#1FAE63","#7E2168","#DC9326","#72CBEC","#DE2530"]},
 "legend":{"title":null,"orient":"none","legendX":256,"legendY":-8,"symbolType":"square","symbolSize":196,"symbolStrokeWidth":0,"labelFontSize":18.35,"labelColor":"#666","labelLimit":500,"clipHeight":26,"rowPadding":0.3,"labelOffset":5}}}}
],"spacing":0,"bounds":"flush","resolve":{"scale":{"color":"independent"}}},
{"width":1,"height":19.5,"data":{"values":[{"a":1}]},"mark":{"type":"rule","opacity":0},"encoding":{}},
{"hconcat":[
{"width":662,"height":486,"title":{"text":"E","anchor":"start","dx":25,"dy":79,"offset":0,"baseline":"alphabetic","fontSize":27,"fontWeight":"bold","color":"#000"},
 "resolve":{"scale":{"angle":"independent"}},
 "layer":[
 {"data":{"name":"chordE"},"transform":[
  {"calculate":"121*sin(datum.a0*PI/180)","as":"ax0"},{"calculate":"121*cos(datum.a0*PI/180)","as":"ay0"},{"calculate":"121*sin(datum.a1*PI/180)","as":"ax1"},{"calculate":"121*cos(datum.a1*PI/180)","as":"ay1"},{"calculate":"121*sin(datum.b0*PI/180)","as":"bx0"},{"calculate":"121*cos(datum.b0*PI/180)","as":"by0"},{"calculate":"121*sin(datum.b1*PI/180)","as":"bx1"},{"calculate":"121*cos(datum.b1*PI/180)","as":"by1"},
  {"calculate":"[datum.ax0,datum.ax0,datum.ax0,0.08*(datum.ax0+datum.bx1),datum.bx1,datum.bx1,datum.bx1,datum.bx0,datum.bx0,datum.bx0,0.08*(datum.bx0+datum.ax1),datum.ax1,datum.ax1,datum.ax1]","as":"xs"},
  {"calculate":"[datum.ay0,datum.ay0,datum.ay0,0.08*(datum.ay0+datum.by1),datum.by1,datum.by1,datum.by1,datum.by0,datum.by0,datum.by0,0.08*(datum.by0+datum.ay1),datum.ay1,datum.ay1,datum.ay1]","as":"ys"},
  {"calculate":"[0,1,2,3,4,5,6,7,8,9,10,11,12,13]","as":"idx"},
  {"flatten":["xs","ys","idx"],"as":["px","py","i"]}],
  "mark":{"type":"line","interpolate":"basis","strokeWidth":0,"fillOpacity":0.27},
  "encoding":{"x":{"field":"px","type":"quantitative","scale":{"domain":[-331,331],"nice":false,"zero":false},"axis":null},"y":{"field":"py","type":"quantitative","scale":{"domain":[-243,243],"nice":false,"zero":false},"axis":null},"order":{"field":"i","type":"quantitative"},"detail":{"field":"src"},
  "fill":{"field":"tgt","type":"nominal","legend":null,"scale":{"domain":["Corynebacteriaceae","Actinomycetaceae","Porphyromonadaceae","Selenomonadaceae","Neisseriaceae","Flavobacteriaceae","Leptotrichiaceae","Fusobacteriaceae","Veillonellaceae","Prevotellaceae"],"range":["#4B0F57","#9C1620","#EE3E2C","#A04FA8","#8650A6","#6A4FA8","#1C3475","#4256A8","#5599D2","#76CCD0"]}}}},
 {"data":{"name":"secE"},"mark":{"type":"arc","radius":198,"radius2":185},"encoding":{"theta":{"field":"s","type":"quantitative","stack":null,"scale":{"domain":[0,360],"range":[0,6.2832]}},"theta2":{"field":"e"},"color":{"field":"name","type":"nominal","legend":null,"scale":{"domain":["N","M","S","Corynebacteriaceae","Actinomycetaceae","Porphyromonadaceae","Selenomonadaceae","Neisseriaceae","Flavobacteriaceae","Leptotrichiaceae","Fusobacteriaceae","Veillonellaceae","Prevotellaceae"],"range":["#354A9E","#0E9F4C","#EE1C2E","#4B0F57","#9C1620","#EE3E2C","#A04FA8","#8650A6","#6A4FA8","#1C3475","#4256A8","#5599D2","#76CCD0"]}}}},
 {"data":{"name":"secE"},"mark":{"type":"arc","radius":133,"radius2":119},"encoding":{"theta":{"field":"s","type":"quantitative","stack":null},"theta2":{"field":"e"},"color":{"field":"name","type":"nominal","legend":null}}},
 {"data":{"name":"chordE"},"mark":{"type":"arc","radius":180,"radius2":169,"opacity":0.85},"encoding":{"theta":{"field":"a0","type":"quantitative","stack":null},"theta2":{"field":"a1"},"color":{"field":"tgt","type":"nominal","legend":null}}},
 {"data":{"name":"chordE"},"mark":{"type":"arc","radius":110,"radius2":104,"opacity":0.85},"encoding":{"theta":{"field":"a0","type":"quantitative","stack":null},"theta2":{"field":"a1"},"color":{"field":"tgt","type":"nominal","legend":null}}},
 {"data":{"name":"chordE"},"mark":{"type":"arc","radius":180,"radius2":169,"opacity":0.9},"encoding":{"theta":{"field":"b0","type":"quantitative","stack":null},"theta2":{"field":"b1"},"color":{"field":"src","type":"nominal","legend":null}}},
 {"data":{"name":"chordE"},"mark":{"type":"arc","radius":110,"radius2":104,"opacity":0.9},"encoding":{"theta":{"field":"b0","type":"quantitative","stack":null},"theta2":{"field":"b1"},"color":{"field":"src","type":"nominal","legend":null}}},
 {"data":{"name":"tickE"},"mark":{"type":"text","radius":155,"fontSize":14,"color":"#777","align":"center","baseline":"middle"},"encoding":{"theta":{"field":"t","type":"quantitative","stack":null},"text":{"field":"p"},"angle":{"field":"t","type":"quantitative","legend":null,"scale":{"domain":[0,180,180.01,360],"range":[-90,90,-90,90]}}}},
 {"data":{"name":"nameRE"},"mark":{"type":"text","radius":206,"fontSize":16.3,"fontWeight":"bold","color":"#3a3a3a","align":"left","baseline":"middle"},"encoding":{"theta":{"field":"t","type":"quantitative","stack":null},"text":{"field":"name"},"angle":{"field":"t","type":"quantitative","legend":null,"scale":{"domain":[0,180,180.01,360],"range":[-90,90,-90,90]}}}},
 {"data":{"name":"nameLE"},"mark":{"type":"text","radius":204,"fontSize":16.3,"fontWeight":"bold","color":"#3a3a3a","align":"right","baseline":"middle"},"encoding":{"theta":{"field":"t","type":"quantitative","stack":null},"text":{"field":"name"},"angle":{"field":"t","type":"quantitative","legend":null,"scale":{"domain":[0,180,180.01,360],"range":[-90,90,-90,90]}}}},
 {"data":{"name":"grp"},"mark":{"type":"text","radius":222,"font":"Liberation Serif","fontSize":20,"fontWeight":"bold","color":"#111","align":"center","baseline":"middle"},"encoding":{"theta":{"field":"t","type":"quantitative","stack":null},"text":{"field":"name"},"angle":{"field":"t","type":"quantitative","legend":null,"scale":{"domain":[0,360],"range":[0,360]}}}}
 ]},
{"width":26,"height":1,"data":{"values":[{"a":1}]},"mark":{"type":"rule","opacity":0},"encoding":{}},
{"width":720,"height":478,"title":{"text":"F","anchor":"start","dx":74,"dy":79,"offset":0,"baseline":"alphabetic","fontSize":27,"fontWeight":"bold","color":"#000"},
 "resolve":{"scale":{"angle":"independent"}},
 "layer":[
 {"data":{"name":"chordF"},"transform":[
  {"calculate":"121*sin(datum.a0*PI/180)","as":"ax0"},{"calculate":"121*cos(datum.a0*PI/180)","as":"ay0"},{"calculate":"121*sin(datum.a1*PI/180)","as":"ax1"},{"calculate":"121*cos(datum.a1*PI/180)","as":"ay1"},{"calculate":"121*sin(datum.b0*PI/180)","as":"bx0"},{"calculate":"121*cos(datum.b0*PI/180)","as":"by0"},{"calculate":"121*sin(datum.b1*PI/180)","as":"bx1"},{"calculate":"121*cos(datum.b1*PI/180)","as":"by1"},
  {"calculate":"[datum.ax0,datum.ax0,datum.ax0,0.08*(datum.ax0+datum.bx1),datum.bx1,datum.bx1,datum.bx1,datum.bx0,datum.bx0,datum.bx0,0.08*(datum.bx0+datum.ax1),datum.ax1,datum.ax1,datum.ax1]","as":"xs"},
  {"calculate":"[datum.ay0,datum.ay0,datum.ay0,0.08*(datum.ay0+datum.by1),datum.by1,datum.by1,datum.by1,datum.by0,datum.by0,datum.by0,0.08*(datum.by0+datum.ay1),datum.ay1,datum.ay1,datum.ay1]","as":"ys"},
  {"calculate":"[0,1,2,3,4,5,6,7,8,9,10,11,12,13]","as":"idx"},
  {"flatten":["xs","ys","idx"],"as":["px","py","i"]}],
  "mark":{"type":"line","interpolate":"basis","strokeWidth":0,"fillOpacity":0.27},
  "encoding":{"x":{"field":"px","type":"quantitative","scale":{"domain":[-360,360],"nice":false,"zero":false},"axis":null},"y":{"field":"py","type":"quantitative","scale":{"domain":[-239,239],"nice":false,"zero":false},"axis":null},"order":{"field":"i","type":"quantitative"},"detail":{"field":"src"},
  "fill":{"field":"tgt","type":"nominal","legend":null,"scale":{"domain":["Porphyromonas","Streptococcus","Corynebacterium","Neisseria","Selenomonas","Veillonella","Capnocytophaga","Leptotrichia","Fusobacterium","Prevotella"],"range":["#4B0F57","#9C1620","#EE3E2C","#A04FA8","#8650A6","#6A4FA8","#1C3475","#4256A8","#5599D2","#76CCD0"]}}}},
 {"data":{"name":"secF"},"mark":{"type":"arc","radius":198,"radius2":185},"encoding":{"theta":{"field":"s","type":"quantitative","stack":null,"scale":{"domain":[0,360],"range":[0,6.2832]}},"theta2":{"field":"e"},"color":{"field":"name","type":"nominal","legend":null,"scale":{"domain":["N","M","S","Porphyromonas","Streptococcus","Corynebacterium","Neisseria","Selenomonas","Veillonella","Capnocytophaga","Leptotrichia","Fusobacterium","Prevotella"],"range":["#354A9E","#0E9F4C","#EE1C2E","#4B0F57","#9C1620","#EE3E2C","#A04FA8","#8650A6","#6A4FA8","#1C3475","#4256A8","#5599D2","#76CCD0"]}}}},
 {"data":{"name":"secF"},"mark":{"type":"arc","radius":133,"radius2":119},"encoding":{"theta":{"field":"s","type":"quantitative","stack":null},"theta2":{"field":"e"},"color":{"field":"name","type":"nominal","legend":null}}},
 {"data":{"name":"chordF"},"mark":{"type":"arc","radius":180,"radius2":169,"opacity":0.85},"encoding":{"theta":{"field":"a0","type":"quantitative","stack":null},"theta2":{"field":"a1"},"color":{"field":"tgt","type":"nominal","legend":null}}},
 {"data":{"name":"chordF"},"mark":{"type":"arc","radius":110,"radius2":104,"opacity":0.85},"encoding":{"theta":{"field":"a0","type":"quantitative","stack":null},"theta2":{"field":"a1"},"color":{"field":"tgt","type":"nominal","legend":null}}},
 {"data":{"name":"chordF"},"mark":{"type":"arc","radius":180,"radius2":169,"opacity":0.9},"encoding":{"theta":{"field":"b0","type":"quantitative","stack":null},"theta2":{"field":"b1"},"color":{"field":"src","type":"nominal","legend":null}}},
 {"data":{"name":"chordF"},"mark":{"type":"arc","radius":110,"radius2":104,"opacity":0.9},"encoding":{"theta":{"field":"b0","type":"quantitative","stack":null},"theta2":{"field":"b1"},"color":{"field":"src","type":"nominal","legend":null}}},
 {"data":{"name":"tickF"},"mark":{"type":"text","radius":155,"fontSize":14,"color":"#777","align":"center","baseline":"middle"},"encoding":{"theta":{"field":"t","type":"quantitative","stack":null},"text":{"field":"p"},"angle":{"field":"t","type":"quantitative","legend":null,"scale":{"domain":[0,180,180.01,360],"range":[-90,90,-90,90]}}}},
 {"data":{"name":"nameRF"},"mark":{"type":"text","radius":206,"fontSize":16.3,"fontWeight":"bold","color":"#3a3a3a","align":"left","baseline":"middle"},"encoding":{"theta":{"field":"t","type":"quantitative","stack":null},"text":{"field":"name"},"angle":{"field":"t","type":"quantitative","legend":null,"scale":{"domain":[0,180,180.01,360],"range":[-90,90,-90,90]}}}},
 {"data":{"name":"nameLF"},"mark":{"type":"text","radius":204,"fontSize":16.3,"fontWeight":"bold","color":"#3a3a3a","align":"right","baseline":"middle"},"encoding":{"theta":{"field":"t","type":"quantitative","stack":null},"text":{"field":"name"},"angle":{"field":"t","type":"quantitative","legend":null,"scale":{"domain":[0,180,180.01,360],"range":[-90,90,-90,90]}}}},
 {"data":{"name":"grp"},"mark":{"type":"text","radius":222,"font":"Liberation Serif","fontSize":20,"fontWeight":"bold","color":"#111","align":"center","baseline":"middle"},"encoding":{"theta":{"field":"t","type":"quantitative","stack":null},"text":{"field":"name"},"angle":{"field":"t","type":"quantitative","legend":null,"scale":{"domain":[0,360],"range":[0,360]}}}}
 ]}
],"spacing":0,"bounds":"flush","resolve":{"scale":{"theta":"independent","fill":"independent","color":"independent"}}}
]}
